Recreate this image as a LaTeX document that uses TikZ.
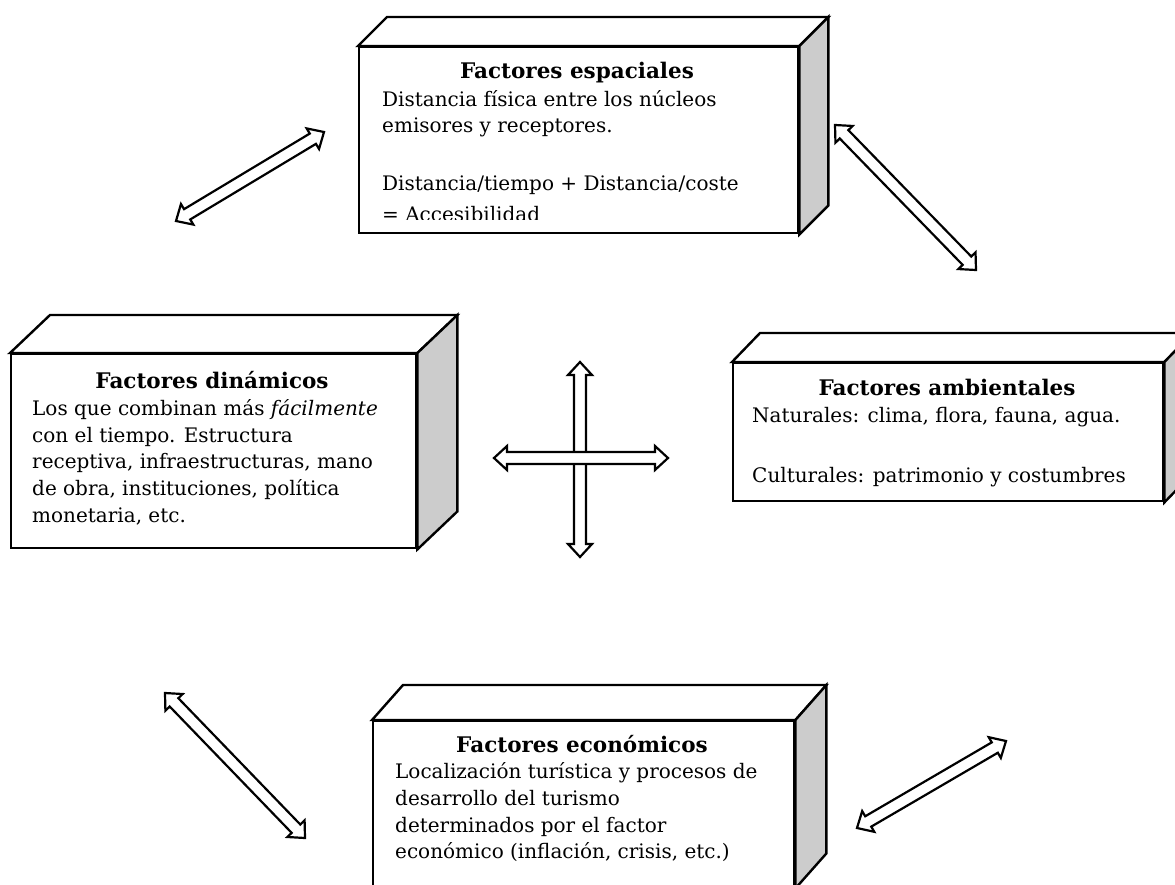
\documentclass[tikz,border=0pt]{standalone}
\usepackage{fontspec}
\setmainfont{DejaVu Serif}
\usetikzlibrary{calc}
\definecolor{sidegrey}{gray}{0.8}
\newcommand\bodyfont{\fontsize{20}{27}\selectfont}
\newcommand\titlefont{\fontsize{21.5}{27}\selectfont\bfseries}
\tikzset{
  face/.style={draw=black, line width=2.4pt, line join=miter},
  front/.style={face, fill=white, rectangle, inner sep=0pt, anchor=north west},
  topface/.style={face, fill=white},
  sideface/.style={face, fill=sidegrey},
  txt/.style={inner sep=0pt, anchor=base west, font=\bodyfont},
  ttl/.style={inner sep=0pt, anchor=base, font=\titlefont},
  harrow/.style={draw=black, line width=2.2pt, fill=white, line join=miter},
}
% name, x, y, width, height, dx, dy
\newcommand\cuboid[7]{%
  \node[front, minimum width=#4pt, minimum height=#5pt] (#1) at (#2,#3) {};
  \draw[topface] (#1.north west) -- ++(#6,-#7) -- ($(#1.north east)+(#6,-#7)$) -- (#1.north east) -- cycle;
  \draw[sideface] (#1.north east) -- ++(#6,-#7) -- ($(#1.south east)+(#6,-#7)$) -- (#1.south east) -- cycle;
}
\newcommand\hollowarrow[2]{%
  \path ($(#1)!13pt!(#2)$) coordinate (ha1) ($(#2)!13pt!(#1)$) coordinate (ha2);
  \draw[harrow] (#1) -- ($(ha1)!12pt!90:(#2)$) -- ($(ha1)!6pt!90:(#2)$)
    -- ($(ha2)!6pt!90:(#2)$) -- ($(ha2)!12pt!90:(#2)$) -- (#2)
    -- ($(ha2)!12pt!-90:(#2)$) -- ($(ha2)!6pt!-90:(#2)$)
    -- ($(ha1)!6pt!-90:(#2)$) -- ($(ha1)!12pt!-90:(#2)$) -- cycle;
}
\begin{document}
\begin{tikzpicture}[x=1pt, y=-1pt]
\path[use as bounding box, clip] (0,0) rectangle (1175,884);
\fill[white] (0,0) rectangle (1175,884);

% boxes
\cuboid{esp}{358}{46}{439}{186}{29}{29}
\cuboid{din}{10}{353}{405}{194}{40}{38}
\cuboid{amb}{732}{362}{430}{138}{28}{29}
\cuboid{eco}{372}{720}{421}{166}{31}{35}

% Factores espaciales
\node[ttl] (espT) at (577,78) {Factores espaciales};
\begin{scope}
  \clip (358,46) rectangle (797,219);
  \node[txt] (esp1) at (382,106) {Distancia física entre los núcleos};
  \node[txt] (esp2) at (382,132) {emisores y receptores.};
  \node[txt] (esp3) at (382,190) {Distancia/tiempo + Distancia/coste};
  \node[txt] (esp4) at (382,221) {= Accesibilidad};
\end{scope}

% Factores dinamicos
\node[ttl] (dinT) at (212,388) {Factores dinámicos};
\node[txt] (din1) at (32,415) {Los que combinan más \textit{fácilmente}};
\node[txt] (din2) at (32,442) {con el tiempo. Estructura};
\node[txt] (din3) at (32,468) {receptiva, infraestructuras, mano};
\node[txt] (din4) at (32,495) {de obra, instituciones, política};
\node[txt] (din5) at (32,522) {monetaria, etc.};

% Factores ambientales
\node[ttl] (ambT) at (947,395) {Factores ambientales};
\node[txt] (amb1) at (752,422) {Naturales: clima, flora, fauna, agua.};
\node[txt] (amb2) at (752,482) {Culturales: patrimonio y costumbres};

% Factores economicos
\node[ttl] (ecoT) at (582,752) {Factores económicos};
\node[txt] (eco1) at (395,778) {Localización turística y procesos de};
\node[txt] (eco2) at (395,805) {desarrollo del turismo};
\node[txt] (eco3) at (395,832) {determinados por el factor};
\node[txt] (eco4) at (395,858) {económico (inflación, crisis, etc.)};

% arrow end points
\coordinate (a1s) at (176,221);  \coordinate (a1e) at (324,132);
\coordinate (a2s) at (835,125);  \coordinate (a2e) at (976,270);
\coordinate (a3s) at (165,693);  \coordinate (a3e) at (305,838);
\coordinate (a4s) at (857,828);  \coordinate (a4e) at (1006,741);
\coordinate (vs) at (580,362);   \coordinate (ve) at (580,557);
\coordinate (hs) at (494,458);   \coordinate (he) at (668,458);

\hollowarrow{a1s}{a1e}
\hollowarrow{a2s}{a2e}
\hollowarrow{a3s}{a3e}
\hollowarrow{a4s}{a4e}
\hollowarrow{vs}{ve}
\hollowarrow{hs}{he}
\end{tikzpicture}
\end{document}
